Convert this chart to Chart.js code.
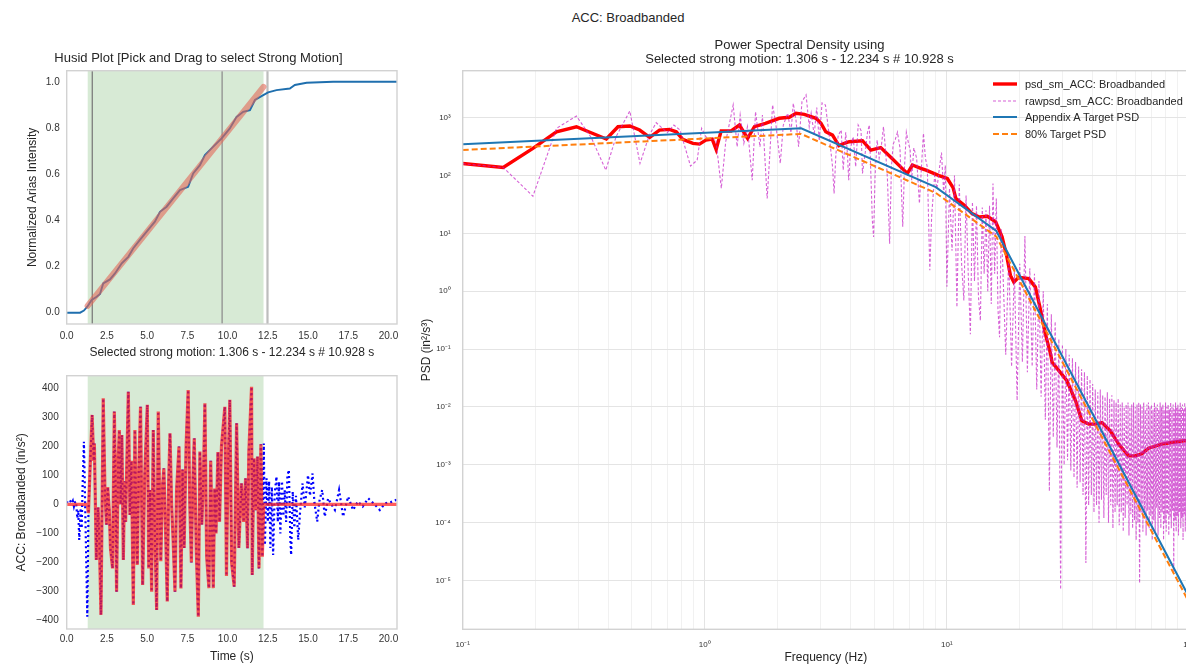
<!DOCTYPE html>
<html>
<head>
<meta charset="utf-8">
<script src="https://cdn.jsdelivr.net/npm/chart.js@4.4.1/dist/chart.umd.min.js"></script>
<style>
  html, body { margin: 0; padding: 0; background: #fff; overflow: hidden; width: 1186px; height: 665px; }
  #page { position: relative; width: 1186px; height: 665px; font-family: "Liberation Sans", Arial, sans-serif; color: #262626; }
  canvas { position: absolute; }
  #supTitle { position: absolute; left: 528px; top: 10px; width: 200px; text-align: center; font-size: 13px; line-height: 16px; }
  #psdLegend { position: absolute; left: 993px; top: 75.75px; font-size: 11px; }
  #psdLegend .row { display: flex; align-items: center; height: 16.5px; white-space: nowrap; }
  #psdLegend svg { margin-right: 8px; }
</style>
</head>
<body>
<div id="page">
  <div id="supTitle"></div>
  <canvas id="husid" width="410" height="330" style="left:0;top:40px"></canvas>
  <canvas id="accel" width="410" height="295" style="left:0;top:370px"></canvas>
  <canvas id="psd" width="779" height="665" style="left:410px;top:0"></canvas>
  <div id="psdLegend"></div>
</div>
<script>
// Text
const supTitle = 'ACC: Broadbanded';
const husidTitle = 'Husid Plot [Pick and Drag to select Strong Motion]';
const husidXLabel = 'Selected strong motion: 1.306 s - 12.234 s # 10.928 s';
const husidYLabel = 'Normalized Arias Intensity';
const accXLabel = 'Time (s)';
const accYLabel = 'ACC: Broadbanded (in/s\u00b2)';
const psdTitle = ['Power Spectral Density using', 'Selected strong motion: 1.306 s - 12.234 s # 10.928 s'];
const psdXLabel = 'Frequency (Hz)';
const psdYLabel = 'PSD (in\u00b2/s\u00b3)';

// Strong motion window and markers (s)
const strongStart = 1.306;
const strongEnd = 12.234;
const markerTimes = [1.59, 9.66];
const endMarkerTime = 12.48;

// Time axis
const timeMax = 20.53;
const timeTicks = [0, 2.5, 5, 7.5, 10, 12.5, 15, 17.5, 20];
const timeLabels = ['0.0', '2.5', '5.0', '7.5', '10.0', '12.5', '15.0', '17.5', '20.0'];

// Husid plot
const husidYTicks = [0, 0.2, 0.4, 0.6, 0.8, 1.0];
const husidYLabels = ['0.0', '0.2', '0.4', '0.6', '0.8', '1.0'];
const husidCurve = [
  [0, 0], [0.83, 0], [1.07, 0.009], [1.28, 0.026], [1.55, 0.055], [1.86, 0.069], [2.07, 0.081],
  [2.27, 0.127], [2.69, 0.144], [3.0, 0.17], [3.42, 0.214], [3.83, 0.242], [4.14, 0.279],
  [4.55, 0.315], [4.97, 0.351], [5.48, 0.394], [5.8, 0.437], [6.21, 0.459], [6.62, 0.495],
  [7.04, 0.531], [7.55, 0.545], [7.86, 0.603], [8.28, 0.639], [8.59, 0.683], [9.11, 0.719],
  [9.63, 0.755], [10.14, 0.798], [10.56, 0.848], [10.97, 0.87], [11.39, 0.877], [11.7, 0.921],
  [12.11, 0.938], [12.52, 0.954], [13.04, 0.964], [13.87, 0.971], [14.18, 0.986], [14.91, 0.996],
  [16.56, 1.0], [20.53, 1.0]
];
const fitLine = [[1.3, 0.03], [12.23, 0.978]];

// Acceleration time history (in/s^2)
const accYTicks = [-400, -300, -200, -100, 0, 100, 200, 300, 400];
const accYLabels = ['\u2212400', '\u2212300', '\u2212200', '\u2212100', '0', '100', '200', '300', '400'];
const accRecord = [
  [0, 5], [0.1, 15], [0.2, 14], [0.31, 4], [0.38, 12], [0.45, -7], [0.52, 8], [0.58, 10], [0.66, -48],
  [0.72, -20], [0.78, -122], [0.87, -13], [0.93, -82], [0.99, 67], [1.07, 216], [1.16, -36], [1.28, -386],
  [1.35, -30], [1.45, 120], [1.58, 308], [1.68, 150], [1.72, 210], [1.84, -191], [1.95, -10], [2.03, -120],
  [2.13, -380], [2.27, 365], [2.38, 40], [2.47, -70], [2.55, 60], [2.65, -25], [2.72, -150], [2.85, -220],
  [2.96, 320], [3.03, 100], [3.1, -300], [3.2, 150], [3.27, 256], [3.35, 0], [3.43, 239], [3.52, -191],
  [3.6, 80], [3.66, -60], [3.83, 388], [3.93, -36], [4.02, 150], [4.14, -346], [4.24, 256], [4.32, -50],
  [4.39, -208], [4.48, 120], [4.59, 336], [4.66, 0], [4.72, -277], [4.85, 100], [5.01, 343], [5.1, -220],
  [5.18, 50], [5.28, -300], [5.38, 256], [5.48, -100], [5.59, -363], [5.69, 320], [5.78, 0], [5.85, -195],
  [5.95, 60], [6.04, 124], [6.15, -100], [6.25, -334], [6.34, 80], [6.42, 245], [6.52, 0], [6.62, -130],
  [6.73, -300], [6.83, 50], [6.98, 199], [7.1, -289], [7.2, 120], [7.3, -150], [7.42, 200], [7.55, 394],
  [7.65, 0], [7.75, -200], [7.85, 100], [7.93, 228], [8.05, -150], [8.18, -386], [8.28, 182], [8.4, -70],
  [8.5, 100], [8.59, 348], [8.7, -180], [8.84, -288], [8.95, 150], [9.02, -50], [9.11, -288], [9.2, 55],
  [9.28, -100], [9.4, 180], [9.5, -60], [9.62, 200], [9.83, 336], [9.93, -246], [10.02, 100], [10.14, 360],
  [10.25, -200], [10.41, -283], [10.56, 279], [10.7, -150], [10.86, 73], [11.0, -60], [11.12, 90],
  [11.24, -151], [11.32, 180], [11.49, 405], [11.53, -243], [11.64, 159], [11.75, -20], [11.86, 165],
  [11.95, -220], [12.07, 207], [12.16, -180],
  [12.25, 210], [12.32, -140], [12.42, 90], [12.5, -60], [12.58, 80], [12.66, -150], [12.75, 60],
  [12.83, -174], [12.93, 40], [13.04, 96], [13.12, -60], [13.2, 78], [13.28, -100], [13.38, 80],
  [13.47, -40], [13.55, 50], [13.64, -60], [13.72, 100], [13.81, 119], [13.9, -120], [13.95, -174],
  [14.05, 44], [14.15, -80], [14.25, 30], [14.39, -122], [14.5, -30], [14.66, 73], [14.8, -10],
  [15.0, 101], [15.12, 30], [15.28, 107], [15.4, 5], [15.57, -59], [15.7, 10], [15.88, 50], [16.04, -42],
  [16.25, 21], [16.4, 5], [16.67, -19], [16.93, 50], [17.18, -42], [17.49, 27], [17.8, -19], [18.1, 10],
  [18.4, -7], [18.74, 21], [19.1, 2], [19.46, -19], [19.8, 4], [20.15, 8], [20.45, 15], [20.53, 10]
];

// PSD (in^2/s^3 vs Hz)
const psdXTicks = [0.1, 0.2, 0.3, 0.4, 0.5, 0.6, 0.7, 0.8, 0.9, 1, 2, 3, 4, 5, 6, 7, 8, 9,
  10, 20, 30, 40, 50, 60, 70, 80, 90, 100];
const psdXMajor = [0.1, 1, 10, 100];
const psdXLabels = ['10\u207b\u00b9', '10\u2070', '10\u00b9', '10\u00b2'];
const psdYTicks = [1e-5, 1e-4, 1e-3, 1e-2, 1e-1, 1, 10, 100, 1000];
const psdYLabels = ['10\u207b\u2075', '10\u207b\u2074', '10\u207b\u00b3', '10\u207b\u00b2', '10\u207b\u00b9',
  '10\u2070', '10\u00b9', '10\u00b2', '10\u00b3'];

const psdSmooth = [
  [0.1, 162], [0.147, 138], [0.195, 295], [0.244, 571], [0.295, 698], [0.392, 428], [0.438, 698],
  [0.49, 718], [0.538, 612], [0.592, 457], [0.65, 612], [0.715, 629], [0.762, 571], [0.811, 423],
  [0.893, 360], [0.951, 350], [1.01, 411], [1.073, 428], [1.114, 283], [1.168, 589], [1.285, 589],
  [1.39, 747], [1.503, 440], [1.603, 698], [1.78, 800], [2.03, 977], [2.234, 1016], [2.381, 1191],
  [2.576, 1145], [2.88, 977], [3.02, 800], [3.16, 571], [3.37, 500], [3.58, 330], [3.77, 360],
  [3.95, 384], [4.48, 400], [4.85, 275], [5.33, 305], [5.95, 195], [6.45, 140], [6.87, 109],
  [7.2, 152], [7.8, 133], [8.2, 124], [9.28, 100], [10.04, 89], [10.6, 62], [10.9, 40], [11.8, 30.7],
  [12.7, 22], [13.6, 19.2], [14.7, 19.8], [15.9, 15.8], [16.9, 8.7], [17.7, 3.9], [18.3, 1.88],
  [18.9, 1.44], [19.8, 1.75], [21.8, 1.65], [23.2, 1.18], [24.4, 0.465], [25.5, 0.183], [26.8, 0.0826],
  [27.2, 0.059], [29.0, 0.0424], [31.3, 0.0284], [34.0, 0.0128], [36.1, 0.00576], [38.5, 0.00505],
  [41.0, 0.00505], [43.7, 0.00538], [47.3, 0.00387], [51.2, 0.00228], [56.3, 0.00143], [60.0, 0.00143],
  [63.9, 0.00156], [68.1, 0.00194], [77.2, 0.00228], [84.9, 0.00243], [95.5, 0.0026], [100, 0.0026]
];

const psdRaw = [
  [0.1, 160], [0.147, 138], [0.195, 44], [0.244, 655], [0.295, 1070], [0.34, 450], [0.39, 124],
  [0.43, 470], [0.49, 1306], [0.54, 162], [0.59, 500], [0.63, 819], [0.7, 550], [0.745, 747], [0.79, 612],
  [0.873, 146], [0.93, 185], [0.97, 655], [1.01, 468], [1.07, 410], [1.11, 440], [1.17, 60], [1.22, 384],
  [1.285, 1114], [1.31, 1660], [1.36, 314], [1.4, 1114], [1.45, 360], [1.5, 698], [1.57, 83], [1.62, 1270],
  [1.69, 314], [1.73, 1114], [1.81, 40], [1.85, 185], [1.905, 1660], [1.96, 852], [2.05, 162], [2.11, 747],
  [2.2, 1190], [2.27, 550], [2.32, 1776], [2.38, 912], [2.44, 314], [2.52, 1893], [2.62, 2470], [2.7, 700],
  [2.75, 1200], [2.83, 500], [2.9, 1500], [2.97, 400], [3.05, 1800],
  [3.15, 1660], [3.27, 468], [3.37, 142], [3.42, 49], [3.48, 241], [3.56, 500], [3.66, 612], [3.73, 124],
  [3.82, 560], [3.88, 250], [3.93, 83], [4.0, 300], [4.1, 468], [4.2, 142], [4.3, 747], [4.42, 600],
  [4.48, 109], [4.6, 250], [4.7, 560], [4.78, 747], [4.92, 17], [4.98, 8.7], [5.05, 100], [5.15, 411],
  [5.25, 200], [5.35, 300], [5.47, 698], [5.57, 300], [5.68, 89], [5.8, 6.6], [5.9, 140], [6.0, 350],
  [6.12, 420], [6.25, 560], [6.4, 300], [6.57, 13], [6.68, 140], [6.8, 560], [6.95, 350], [7.05, 280],
  [7.15, 83], [7.3, 300], [7.5, 200], [7.7, 33], [7.85, 140], [8.0, 537], [8.15, 200], [8.3, 140],
  [8.5, 2.3], [8.65, 20], [8.9, 100], [9.1, 60], [9.28, 120], [9.5, 250], [9.7, 49], [9.85, 150],
  [10.0, 1.2], [10.25, 60], [10.5, 5], [10.75, 100], [11.0, 0.53], [11.25, 70], [11.5, 3], [11.75, 0.69],
  [12.0, 45], [12.25, 2], [12.5, 0.18], [12.75, 35], [13.0, 1.5], [13.25, 30], [13.5, 0.8], [13.75, 0.31],
  [14.0, 28], [14.25, 2], [14.5, 25], [14.75, 1], [15.0, 30], [15.25, 0.6], [15.5, 73], [15.75, 2],
  [16.0, 40], [16.25, 0.5], [16.5, 0.16], [16.75, 12],
  [17.0, 3.0], [17.5, 0.08], [18.0, 4.0], [18.5, 0.05], [19.0, 2.5], [19.5, 0.013], [20.0, 3.0],
  [20.5, 0.06], [21.0, 9.0], [21.5, 0.04], [22.0, 2.5], [22.5, 0.05], [23.0, 2.0], [23.5, 0.02],
  [24.0, 1.5], [24.5, 0.015], [25.0, 1.0], [25.5, 0.006], [26.0, 0.6], [26.5, 3.5e-4], [27.0, 0.4],
  [27.5, 0.003], [28.0, 0.3], [28.5, 0.002], [29.0, 0.15], [29.5, 7e-6], [30.0, 0.12], [30.5, 0.001],
  [31.0, 0.1], [31.5, 0.0012], [32.0, 0.08], [32.5, 8e-4], [33.0, 0.07], [33.5, 6e-4], [34.0, 0.06],
  [34.5, 4e-4], [35.0, 0.05], [35.5, 5e-4], [36.0, 0.045], [36.5, 3e-4], [37.0, 0.04], [37.5, 2e-5],
  [38.0, 0.035], [38.5, 2e-4], [39.0, 0.03], [39.5, 3e-4], [40.0, 0.025], [40.5, 1.5e-4], [41.0, 0.02],
  [41.5, 2e-4], [42.0, 0.018], [42.5, 1e-4], [43.0, 0.02], [43.5, 2.5e-4], [44.0, 0.016], [44.5, 1.2e-4],
  [45.0, 0.015], [45.5, 3e-4], [46.0, 0.018], [46.5, 1e-4], [47.0, 0.014], [47.5, 2e-4], [48.0, 0.016],
  [48.5, 8e-5], [49.0, 0.013], [49.5, 1.5e-4], [50.0, 0.012], [50.5, 2e-4], [51.0, 0.014], [51.5, 9e-5],
  [52.0, 0.011], [52.5, 1.5e-4], [53.0, 0.012], [53.5, 7e-5], [54.0, 0.01], [54.5, 1.2e-4], [55.0, 0.011],
  [55.5, 2e-4], [56.0, 0.012], [56.5, 6e-5], [57.0, 0.01], [57.5, 1.4e-4], [58.0, 0.011], [58.5, 8e-5],
  [59.0, 0.012], [59.5, 1.1e-4], [60.0, 0.01], [60.5, 5e-5], [61.0, 0.011], [61.5, 1e-4], [62.0, 0.012],
  [62.5, 9e-6], [63.0, 0.011], [63.5, 1.5e-4], [64.0, 0.01], [64.5, 7e-5], [65.0, 0.012], [65.5, 1.2e-4],
  [66.0, 0.009], [66.5, 6e-5], [67.0, 0.011], [67.5, 1.6e-4], [68.0, 0.012], [68.5, 8e-5], [69.0, 0.01],
  [69.5, 1.3e-4], [70.0, 0.011], [70.5, 5e-5], [71.0, 0.009], [71.5, 1.1e-4], [72.0, 0.012], [72.5, 7e-5],
  [73.0, 0.01], [73.5, 1.8e-4], [74.0, 0.011], [74.5, 6e-5], [75.0, 0.009], [75.5, 1.2e-4], [76.0, 0.012],
  [76.5, 8e-5], [77.0, 0.01], [77.5, 1.5e-4], [78.0, 0.011], [78.5, 5e-5], [79.0, 0.009], [79.5, 1e-4],
  [80.0, 0.012], [80.5, 7e-5], [81.0, 0.01], [81.5, 1.4e-4], [82.0, 0.011], [82.5, 6e-5], [83.0, 0.009],
  [83.5, 1.2e-4], [84.0, 0.012], [84.5, 8e-5], [85.0, 0.01], [85.5, 1.6e-4], [86.0, 0.011], [86.5, 1.4e-5],
  [87.0, 0.009], [87.5, 1.1e-4], [88.0, 0.012], [88.5, 7e-5], [89.0, 0.01], [89.5, 1.3e-4], [90.0, 0.011],
  [90.5, 6e-5], [91.0, 0.009], [91.5, 1.5e-4], [92.0, 0.012], [92.5, 8e-5], [93.0, 0.01], [93.5, 1.2e-4],
  [94.0, 0.011], [94.5, 5e-5], [95.0, 0.009], [95.5, 1.4e-4], [96.0, 0.012], [96.5, 7e-5], [97.0, 0.01],
  [97.5, 1.1e-4], [98.0, 0.011], [98.5, 6e-5], [99.0, 0.01], [99.5, 1.3e-4], [100, 0.01]
];

// Appendix A target (breakpoints) and 80% of it
const targetFreq = [0.1, 2.5, 9, 16, 100];
const targetPsd = [346, 655, 63, 11, 5.2e-6];
const target80Psd = [277, 524, 50, 8.8, 4.2e-6];

// ---------------------------------------------------------------
Chart.defaults.font.family = '"Liberation Sans", Arial, sans-serif';
Chart.defaults.color = '#262626';
document.getElementById('supTitle').textContent = supTitle;

const toXY = (pairs) => pairs.map(([x, y]) => ({ x, y }));
const TICK = '#333333';
const STRONG_FILL = '#d7ead5';

// keeps the axis box at a fixed size so chart areas line up with the figure
function fixedSize(size, horizontal) {
  return (scale) => {
    if (horizontal) {
      scale.height = size;
      scale.paddingLeft = 0;
      scale.paddingRight = 0;
    } else {
      scale.width = size;
      scale.paddingTop = 0;
      scale.paddingBottom = 0;
    }
  };
}

// shaded strong-motion span, marker lines and the axes frame
const marksPlugin = {
  id: 'marks',
  beforeDatasetsDraw(chart, args, opts) {
    const { ctx, chartArea: area } = chart;
    const x = chart.scales.x;
    ctx.save();
    (opts.spans || []).forEach(s => {
      const x0 = x.getPixelForValue(s.from);
      const x1 = x.getPixelForValue(s.to);
      ctx.fillStyle = s.color;
      ctx.fillRect(x0, area.top, x1 - x0, area.bottom - area.top);
    });
    (opts.lines || []).forEach(l => {
      const px = x.getPixelForValue(l.at);
      ctx.strokeStyle = l.color;
      ctx.lineWidth = l.width;
      ctx.beginPath();
      ctx.moveTo(px, area.top);
      ctx.lineTo(px, area.bottom);
      ctx.stroke();
    });
    ctx.restore();
  },
  afterDraw(chart) {
    const { ctx, chartArea: a } = chart;
    ctx.save();
    ctx.strokeStyle = '#d2d2d2';
    ctx.lineWidth = 1.4;
    ctx.strokeRect(a.left, a.top, a.right - a.left, a.bottom - a.top);
    ctx.restore();
  }
};

function timeAxis(height, tickPad, titleText, titlePadBottom) {
  return {
    type: 'linear',
    min: 0,
    max: timeMax,
    afterBuildTicks: (s) => { s.ticks = timeTicks.map(v => ({ value: v })); },
    afterFit: fixedSize(height, true),
    grid: { display: false, drawTicks: false },
    border: { display: false },
    ticks: { callback: (v, i) => timeLabels[i], font: { size: 10 }, color: TICK, padding: tickPad, maxRotation: 0, autoSkip: false },
    title: { display: true, text: titleText, font: { size: 12, lineHeight: 1.2 }, padding: { top: 0, bottom: titlePadBottom } }
  };
}

// Husid plot: fit line drawn over the curve, semi-transparent
new Chart(document.getElementById('husid'), {
  type: 'line',
  data: {
    datasets: [
      { label: 'Linear fit', data: toXY(fitLine), borderColor: 'rgba(226,104,88,0.6)', borderWidth: 6,
        borderCapStyle: 'round', pointRadius: 0, order: 0 },
      { label: 'Husid', data: toXY(husidCurve), borderColor: '#1f6fae', borderWidth: 1.9,
        pointRadius: 0, order: 1 }
    ]
  },
  options: {
    responsive: false, animation: false, devicePixelRatio: 1,
    layout: { padding: { left: 0, right: 13, top: 0, bottom: 0 } },
    plugins: {
      legend: { display: false }, tooltip: { enabled: false },
      title: { display: true, text: husidTitle, font: { size: 13, lineHeight: 1.2, weight: 'normal' },
        padding: { top: 10.9, bottom: 4.2 } },
      marks: {
        spans: [{ from: strongStart, to: strongEnd, color: STRONG_FILL }],
        lines: [
          { at: markerTimes[0], color: '#7d7d7d', width: 1.3 },
          { at: markerTimes[1], color: '#8f8f8f', width: 1.3 },
          { at: endMarkerTime, color: '#bdbdbd', width: 2.2 }
        ]
      }
    },
    scales: {
      x: timeAxis(46, 6, husidXLabel, 10.1),
      y: {
        min: -0.049, max: 1.048,
        afterBuildTicks: (s) => { s.ticks = husidYTicks.map(v => ({ value: v })); },
        afterFit: fixedSize(66.7, false),
        grid: { display: false, drawTicks: false },
        border: { display: false },
        ticks: { callback: (v, i) => husidYLabels[i], font: { size: 10 }, color: TICK, padding: 7, autoSkip: false },
        title: { display: true, text: husidYLabel, font: { size: 12, lineHeight: 1.2 }, padding: { top: 25.1, bottom: 0 } }
      }
    }
  },
  plugins: [marksPlugin]
});

// Acceleration time history
new Chart(document.getElementById('accel'), {
  type: 'line',
  data: {
    datasets: [
      { label: 'Strong motion', data: accRecord.map(([t, a]) => ({ x: t, y: (t >= strongStart && t <= strongEnd) ? a : 0 })),
        borderColor: 'rgba(255,30,30,0.72)', borderWidth: 3.2, pointRadius: 0, order: 0 },
      { label: 'ACC', data: toXY(accRecord), borderColor: '#0000ff', borderWidth: 2.2,
        borderDash: [2, 3], pointRadius: 0, order: 1 }
    ]
  },
  options: {
    responsive: false, animation: false, devicePixelRatio: 1,
    layout: { padding: { left: 0, right: 13, top: 5.7, bottom: 0 } },
    plugins: {
      legend: { display: false }, tooltip: { enabled: false },
      marks: { spans: [{ from: strongStart, to: strongEnd, color: STRONG_FILL }] }
    },
    scales: {
      x: timeAxis(36, 4, accXLabel, 1.3),
      y: {
        min: -428.6, max: 443,
        afterBuildTicks: (s) => { s.ticks = accYTicks.map(v => ({ value: v })); },
        afterFit: fixedSize(66.7, false),
        grid: { display: false, drawTicks: false },
        border: { display: false },
        ticks: { callback: (v, i) => accYLabels[i], font: { size: 10 }, color: TICK, padding: 8, autoSkip: false },
        title: { display: true, text: accYLabel, font: { size: 12, lineHeight: 1.2 }, padding: { top: 14.5, bottom: 0 } }
      }
    }
  },
  plugins: [marksPlugin]
});

// Power spectral density
const psdChart = new Chart(document.getElementById('psd'), {
  type: 'line',
  data: {
    datasets: [
      { label: 'psd_sm_ACC: Broadbanded', data: toXY(psdSmooth), borderColor: '#ff0000', borderWidth: 3.4,
        pointRadius: 0, order: 3 },
      { label: 'rawpsd_sm_ACC: Broadbanded', data: toXY(psdRaw), borderColor: 'rgba(196,30,196,0.7)',
        borderWidth: 1.1, borderDash: [3, 2], pointRadius: 0, order: 2 },
      { label: 'Appendix A Target PSD', data: targetFreq.map((f, i) => ({ x: f, y: targetPsd[i] })),
        borderColor: '#1f77b4', borderWidth: 2, pointRadius: 0, order: 1 },
      { label: '80% Target PSD', data: targetFreq.map((f, i) => ({ x: f, y: target80Psd[i] })),
        borderColor: '#ff7f0e', borderWidth: 2, borderDash: [6, 3], pointRadius: 0, order: 0 }
    ]
  },
  options: {
    responsive: false, animation: false, devicePixelRatio: 1,
    layout: { padding: 0 },
    plugins: {
      legend: { display: false }, tooltip: { enabled: false },
      title: { display: true, text: psdTitle, font: { size: 13, lineHeight: 14 / 13, weight: 'normal' },
        padding: { top: 38, bottom: 4.7 } }
    },
    scales: {
      x: {
        type: 'logarithmic', min: 0.1, max: 100,
        afterBuildTicks: (s) => { s.ticks = psdXTicks.map(v => ({ value: v })); },
        afterFit: fixedSize(35.7, true),
        grid: { drawTicks: false, lineWidth: 1,
          color: (c) => psdXMajor.indexOf(psdXTicks[c.index]) >= 0 ? '#e4e4e4' : '#f1f1f1' },
        border: { display: false },
        ticks: { callback: (v, i) => { const k = psdXMajor.indexOf(psdXTicks[i]); return k >= 0 ? psdXLabels[k] : ''; },
          font: { size: 8 }, color: TICK, padding: 11, maxRotation: 0, autoSkip: false },
        title: { display: true, text: psdXLabel, font: { size: 12, lineHeight: 1.2 }, padding: { top: 0, bottom: 0 } }
      },
      y: {
        type: 'logarithmic', min: 1.435e-6, max: 6493,
        afterBuildTicks: (s) => { s.ticks = psdYTicks.map(v => ({ value: v })); },
        afterFit: fixedSize(52.7, false),
        grid: { drawTicks: false, color: '#e4e4e4', lineWidth: 1 },
        border: { display: false },
        ticks: { callback: (v, i) => psdYLabels[i], font: { size: 8 }, color: TICK, padding: 12, autoSkip: false },
        title: { display: true, text: psdYLabel, font: { size: 12, lineHeight: 1.2 }, padding: { top: 9, bottom: 0 } }
      }
    }
  },
  plugins: [marksPlugin]
});

// legend built from the PSD datasets
const legendBox = document.getElementById('psdLegend');
psdChart.data.datasets.forEach(ds => {
  const row = document.createElement('div');
  row.className = 'row';
  const dash = ds.borderDash ? ds.borderDash.join(',') : 'none';
  row.innerHTML = '<svg width="24" height="10"><line x1="0" y1="5" x2="24" y2="5" stroke="' + ds.borderColor +
    '" stroke-width="' + ds.borderWidth + '" stroke-dasharray="' + dash + '"/></svg>';
  const label = document.createElement('span');
  label.textContent = ds.label;
  row.appendChild(label);
  legendBox.appendChild(row);
});
</script>
</body>
</html>
